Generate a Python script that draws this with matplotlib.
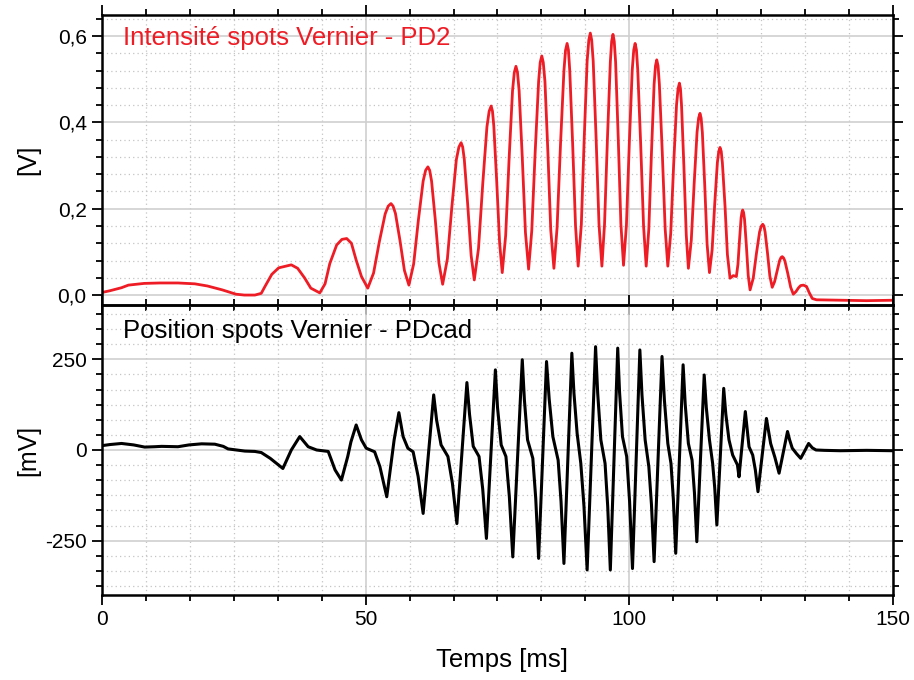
import numpy as np
import matplotlib
matplotlib.use("Agg")
import matplotlib.pyplot as plt
from matplotlib.ticker import MultipleLocator, FixedLocator, FixedFormatter

plt.rcParams['font.family'] = ['Liberation Sans', 'DejaVu Sans']
plt.rcParams['axes.unicode_minus'] = False

# ---- data ----
# top panel: PD2 intensity [V]
t_pd2 = [0, 1.5, 3.7, 5, 8, 11, 14.4, 17.6, 20, 22.8, 25.4, 27, 29, 30.2, 31.0, 32.2, 33.5,
         35.9, 37.1, 38.4, 39.6, 41.3, 42.3, 43.2, 44.5, 45.5, 46.4, 47.3, 48.2, 49.2, 50.4,
         51.5, 52.6, 53.7, 54.27, 54.8,
         55.2, 55.65, 56.5, 57.35, 58.2,
         59.1, 60.0, 60.9, 61.37, 61.8,
         62.14, 62.5, 63.2, 63.9, 64.6,
         65.5, 66.35, 67.2, 67.68, 68.1,
         68.4, 68.7, 69.35, 70.0, 70.6,
         71.4, 72.2, 73.0, 73.42, 73.8,
         74.05, 74.3, 74.85, 75.4, 75.9,
         76.55, 77.2, 77.85, 78.19, 78.5,
         78.79, 79.1, 79.7, 80.3, 80.9,
         81.5, 82.15, 82.8, 83.1, 83.4,
         83.68, 84.0, 84.55, 85.1, 85.7,
         86.3, 86.95, 87.6, 87.9, 88.2,
         88.45, 88.7, 89.25, 89.8, 90.3,
         90.9, 91.45, 92.0, 92.32, 92.6,
         92.86, 93.15, 93.7, 94.25, 94.8,
         95.3, 95.85, 96.4, 96.65, 96.9,
         97.14, 97.4, 97.9, 98.4, 98.9,
         99.45, 100.0, 100.55, 100.84, 101.1,
         101.35, 101.6, 102.15, 102.7, 103.2,
         103.7, 104.2, 104.7, 104.96, 105.2,
         105.45, 105.7, 106.25, 106.8, 107.3,
         107.85, 108.4, 108.95, 109.24, 109.5,
         109.7, 109.9, 110.35, 110.8, 111.2,
         111.75, 112.3, 112.85, 113.14, 113.4,
         113.62, 113.85, 114.3, 114.75, 115.2,
         115.7, 116.2, 116.7, 116.96, 117.2,
         117.43, 117.65, 118.15, 118.6, 119.1,
         119.7, 120.3, 120.6, 120.9, 121.2, 121.36, 121.5,
         121.67, 121.85, 122.2, 122.55, 122.9,
         123.5, 124.1, 124.7, 125.0, 125.3,
         125.52, 125.75, 126.2, 126.65, 127.1,
         127.55, 128.05, 128.5, 128.77, 129.0,
         129.25, 129.5, 130.05, 130.6, 131.1,
         131.6, 132.1, 132.5, 133.0, 133.6, 134.1, 134.7, 135.5, 140, 145, 150]
v_pd2 = [0.006, 0.010, 0.017, 0.023, 0.027, 0.028, 0.028, 0.026, 0.021, 0.012, 0.002, 0.0, 0.0, 0.004, 0.022, 0.048, 0.063,
         0.070, 0.062, 0.040, 0.016, 0.005, 0.026, 0.073, 0.116, 0.129, 0.131, 0.120, 0.081, 0.043, 0.016,
         0.051, 0.124, 0.188, 0.206, 0.212,
         0.206, 0.189, 0.127, 0.057, 0.023,
         0.072, 0.174, 0.264, 0.289, 0.297,
         0.289, 0.264, 0.175, 0.074, 0.025,
         0.084, 0.205, 0.314, 0.343, 0.353,
         0.343, 0.315, 0.210, 0.092, 0.035,
         0.108, 0.257, 0.390, 0.426, 0.438,
         0.426, 0.392, 0.264, 0.121, 0.052,
         0.138, 0.315, 0.473, 0.516, 0.530,
         0.516, 0.474, 0.319, 0.145, 0.060,
         0.149, 0.332, 0.495, 0.539, 0.554,
         0.539, 0.495, 0.333, 0.151, 0.062,
         0.156, 0.349, 0.520, 0.567, 0.583,
         0.568, 0.521, 0.351, 0.160, 0.067,
         0.164, 0.364, 0.542, 0.591, 0.607,
         0.591, 0.542, 0.364, 0.164, 0.067,
         0.164, 0.362, 0.540, 0.588, 0.604,
         0.588, 0.540, 0.363, 0.165, 0.069,
         0.162, 0.352, 0.521, 0.568, 0.583,
         0.568, 0.521, 0.351, 0.160, 0.067,
         0.153, 0.330, 0.488, 0.531, 0.545,
         0.531, 0.488, 0.330, 0.153, 0.067,
         0.143, 0.300, 0.440, 0.478, 0.491,
         0.478, 0.440, 0.298, 0.139, 0.062,
         0.127, 0.259, 0.378, 0.410, 0.421,
         0.410, 0.377, 0.255, 0.118, 0.052,
         0.104, 0.212, 0.307, 0.333, 0.342,
         0.333, 0.306, 0.206, 0.094, 0.039,
         0.045, 0.043, 0.071, 0.128, 0.179, 0.192, 0.197,
         0.191, 0.175, 0.114, 0.045, 0.012,
         0.039, 0.096, 0.146, 0.159, 0.164,
         0.160, 0.146, 0.098, 0.044, 0.018,
         0.031, 0.057, 0.080, 0.087, 0.089,
         0.086, 0.079, 0.050, 0.018, 0.002,
         0.008, 0.017, 0.022, 0.023, 0.020, 0.006, -0.008, -0.011, -0.012, -0.013, -0.012]

# bottom panel: PDcad position [mV]
t_cad = [0, 1.5, 3.7, 6, 8.1, 10, 11.3, 14.4, 16.5, 18.9, 21.4, 23, 23.9, 25.5, 27.1, 29, 30.2,
         31.9, 34.3, 35.9, 37.5, 39.1, 40.7, 42.9, 44.2, 45.4, 46.6, 47.2, 48.2, 49.2, 50.1,
         51.7, 52.7, 54.0, 55.4, 56.3, 57.1, 58.0, 59.0, 59.95, 60.9, 61.9, 62.9,
         63.45, 64.3, 65.6, 66.45, 67.3, 68.25, 69.2, 69.7, 70.4, 71.5, 72.2, 72.9, 73.75, 74.6,
         75.0, 75.7, 76.6, 77.25, 77.9, 78.8, 79.7, 80.1, 80.7, 81.7, 82.25, 82.8, 83.55, 84.3,
         84.8, 85.5, 86.5, 87.05, 87.6, 88.35, 89.1, 89.5, 90.1, 90.8, 91.4, 92.0, 92.8, 93.6,
         94.0, 94.6, 95.4, 95.9, 96.4, 97.1, 97.8, 98.15, 98.7, 99.5, 100.05, 100.6, 101.3, 102.0,
         102.4, 103.0, 103.7, 104.2, 104.7, 105.45, 106.2, 106.65, 107.3, 107.9, 108.35, 108.8, 109.5, 110.2,
         110.6, 111.2, 111.9, 112.35, 112.8, 113.5, 114.2, 114.6, 115.2, 115.8, 116.2, 116.6, 117.25, 117.9,
         118.3, 118.9, 119.6, 120.5, 120.8, 121.4, 122.0, 122.35, 122.7, 123.4, 123.9, 124.4, 125.2, 126.0,
         126.4, 126.8, 127.6, 128.4, 129.2, 130.0, 130.4, 130.9, 131.7, 132.5, 133.25, 134.0,
         134.7, 135.4, 137, 140, 145, 150]
v_cad = [12, 15, 18, 14, 8, 9, 10, 9, 14, 17, 16, 10, 3, 0, -3, -4, -7,
         -23, -51, 0, 37, 9, 0, -4, -55, -83, -18, 22, 69, 28, 5,
         -5, -46, -129, 28, 103, 37, 5, -5, -73, -175, -12, 152,
         83, 14, -18, -92, -203, -8, 186, 98, 10, -18, -108, -244, -12, 221,
         118, 14, -18, -129, -295, -23, 249, 139, 28, -23, -133, -299, -28, 244,
         141, 37, -28, -142, -313, -23, 267, 157, 46, -37, -155, -331, -23, 285,
         157, 28, -37, -155, -331, -25, 281, 159, 37, -18, -142, -327, -25, 276,
         152, 28, -46, -151, -308, -25, 258, 138, 18, -37, -136, -285, -25, 235,
         126, 18, -28, -118, -253, -23, 207, 117, 28, -37, -105, -207, -18, 170,
         99, 28, -14, -41, -74, 16, 106, 57, 9, -14, -55, -115, -14, 87,
         52, 18, -20, -64, -6, 51, 28, 5, -10, -23, -3, 18,
         6, 0, -1, -2, -1, -2]

top_ticks = [0.0, 0.2, 0.4, 0.6]
top_labels = ["0,0", "0,2", "0,4", "0,6"]
bot_ticks = [-250, 0, 250]
bot_labels = ["-250", "0", "250"]
x_ticks = [0, 50, 100, 150]
x_labels = ["0", "50", "100", "150"]

fig = plt.figure(figsize=(9.14, 6.8), dpi=100)
ax1 = fig.add_axes([0.1116, 0.5515, 0.8654, 0.4265])
ax2 = fig.add_axes([0.1116, 0.125, 0.8654, 0.4265])

for ax in (ax1, ax2):
    ax.set_facecolor('none')
    ax.set_xlim(0, 150)
    ax.xaxis.set_major_locator(FixedLocator(x_ticks))
    ax.xaxis.set_minor_locator(MultipleLocator(50 / 6))
    ax.grid(True, which='major', color='#cfcfcf', lw=1.2, ls='-')
    ax.grid(True, which='minor', color='#c4c4c4', lw=0.9, ls=(0, (1, 2.5)))
    ax.set_axisbelow(True)
    ax.tick_params(which='both', direction='out', top=True, right=True, width=1.3,
                   labelsize=15, pad=4)
    ax.tick_params(which='major', length=7)
    ax.tick_params(which='minor', length=4)
    for s in ax.spines.values():
        s.set_linewidth(1.8)

ax1.plot(t_pd2, v_pd2, color='#ee1c25', lw=2.0)
ax1.set_ylim(-0.023, 0.649)
ax1.yaxis.set_major_locator(FixedLocator(top_ticks))
ax1.yaxis.set_major_formatter(FixedFormatter(top_labels))
ax1.yaxis.set_minor_locator(MultipleLocator(0.04))
ax1.tick_params(labelbottom=False)
ax1.set_ylabel("[V]", fontsize=18)
ax1.yaxis.set_label_coords(-0.078, 0.5)
ax1.text(0.027, 0.895, "Intensité spots Vernier - PD2", transform=ax1.transAxes,
         color='#ee1c25', fontsize=18.5, ha='left', va='baseline')

ax2.plot(t_cad, v_cad, color='black', lw=2.2)
ax2.set_ylim(-400, 400)
ax2.yaxis.set_major_locator(FixedLocator(bot_ticks))
ax2.yaxis.set_major_formatter(FixedFormatter(bot_labels))
ax2.yaxis.set_minor_locator(MultipleLocator(250 / 6))
ax2.xaxis.set_major_formatter(FixedFormatter(x_labels))
ax2.set_ylabel("[mV]", fontsize=18)
ax2.yaxis.set_label_coords(-0.078, 0.5)
ax2.set_xlabel("Temps [ms]", fontsize=18.5)
ax2.xaxis.set_label_coords(0.506, -0.183)
ax2.text(0.027, 0.885, "Position spots Vernier - PDcad", transform=ax2.transAxes,
         color='black', fontsize=18.5, ha='left', va='baseline')

fig.savefig("out.png", dpi=100, facecolor='white')
